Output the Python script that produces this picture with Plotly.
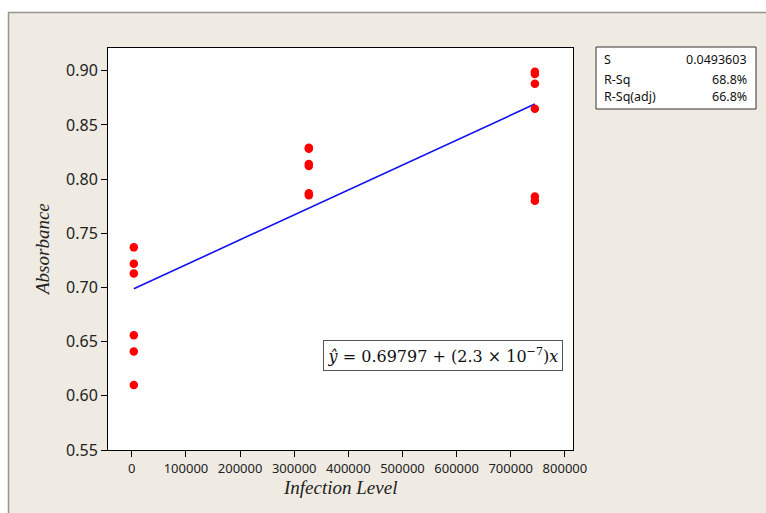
import plotly.graph_objects as go

# ---- data ----
infection_level = [3700, 3700, 3700, 3700, 3700, 3700,
                   327000, 327000, 327000, 327000, 327000, 327000,
                   744600, 744600, 744600, 744600, 744600, 744600]
absorbance = [0.737, 0.722, 0.713, 0.656, 0.641, 0.610,
              0.829, 0.828, 0.814, 0.812, 0.787, 0.785,
              0.899, 0.897, 0.888, 0.865, 0.784, 0.780]

intercept = 0.69797
slope = 2.3e-7

stat_labels = ["S", "R-Sq", "R-Sq(adj)"]
stat_values = ["0.0493603", "68.8%", "66.8%"]

x_ticks = [0, 100000, 200000, 300000, 400000, 500000, 600000, 700000, 800000]
y_ticks = [0.55, 0.60, 0.65, 0.70, 0.75, 0.80, 0.85, 0.90]

fit_x = [min(infection_level), max(infection_level)]
fit_y = [intercept + slope * v for v in fit_x]

W, H = 766, 513
L, R, T, B = 108, 573, 48, 450   # plot area in pixels
pw, ph = R - L, B - T


def px(x):
    return (x - L) / pw


def py(y):
    return (B - y) / ph


BEIGE = "#EFEBE2"

fig = go.Figure()
fig.add_trace(go.Scatter(x=fit_x, y=fit_y, mode="lines",
                         line=dict(color="#1010F0", width=1.6),
                         hoverinfo="skip"))
fig.add_trace(go.Scatter(x=infection_level, y=absorbance, mode="markers",
                         marker=dict(color="#FF0000", size=8.5, line=dict(width=0))))

shapes = [
    # white strips around the beige panel
    dict(type="rect", xref="paper", yref="paper", x0=-1, x1=2, y0=py(12), y1=py(-20),
         fillcolor="white", line=dict(width=0), layer="above"),
    dict(type="rect", xref="paper", yref="paper", x0=px(-20), x1=px(8), y0=py(600), y1=py(-20),
         fillcolor="white", line=dict(width=0), layer="above"),
    dict(type="line", xref="paper", yref="paper", x0=px(8), x1=px(800), y0=py(12.5), y1=py(12.5),
         line=dict(color="#959595", width=1.5)),
    dict(type="line", xref="paper", yref="paper", x0=px(8.5), x1=px(8.5), y0=py(12), y1=py(600),
         line=dict(color="#959595", width=1.5)),
    # statistics box
    dict(type="rect", xref="paper", yref="paper", x0=px(596), x1=px(756), y0=py(109), y1=py(47),
         fillcolor="white", line=dict(color="#333333", width=1)),
]

annotations = [
    dict(text="<i>Absorbance</i>", xref="paper", yref="paper", x=px(42), y=py(250),
         textangle=-90, showarrow=False, xanchor="center", yanchor="middle",
         font=dict(family="Liberation Serif", size=19, color="#222222")),
    dict(text="<i>Infection Level</i>", xref="paper", yref="paper", x=px(340), y=py(488),
         showarrow=False, xanchor="center", yanchor="middle",
         font=dict(family="Liberation Serif", size=19, color="#222222")),
    dict(text="<i>ŷ</i> = 0.69797 + (2.3 × 10<sup>−7</sup>)<i>x</i>",
         xref="paper", yref="paper", x=px(442.5), y=py(355),
         showarrow=False, xanchor="center", yanchor="middle",
         width=234, height=25, borderpad=2, align="center",
         bordercolor="#555555", borderwidth=1, bgcolor="white",
         font=dict(family="DejaVu Serif", size=16, color="#111111")),
]
rows_y = [60, 79, 97]
for lab, val, ry in zip(stat_labels, stat_values, rows_y):
    annotations.append(dict(text=lab, xref="paper", yref="paper", x=px(602), y=py(ry),
                            showarrow=False, xanchor="left", yanchor="middle",
                            font=dict(family="Noto Sans", size=12.5, color="#111111")))
    annotations.append(dict(text=val, xref="paper", yref="paper", x=px(749), y=py(ry),
                            showarrow=False, xanchor="right", yanchor="middle",
                            font=dict(family="Noto Sans", size=12.5, color="#111111")))

fig.update_layout(
    width=W, height=H,
    margin=dict(l=L, r=W - R, t=T, b=H - B, pad=0),
    paper_bgcolor=BEIGE, plot_bgcolor="white",
    showlegend=False,
    shapes=shapes, annotations=annotations,
    xaxis=dict(range=[-44000, 815000], tickvals=x_ticks, tickformat="d",
               showgrid=False, zeroline=False, showline=True, mirror=True,
               linecolor="black", linewidth=1, ticks="outside", ticklen=6,
               tickcolor="black", tickfont=dict(family="Noto Sans", size=13, color="#222222")),
    yaxis=dict(range=[0.55, 0.921], tickvals=y_ticks, tickformat=".2f",
               showgrid=False, zeroline=False, showline=True, mirror=True,
               linecolor="black", linewidth=1, ticks="outside", ticklen=6,
               tickcolor="black", tickfont=dict(family="Noto Sans", size=16, color="#222222")),
)

fig.write_html("out.html")
